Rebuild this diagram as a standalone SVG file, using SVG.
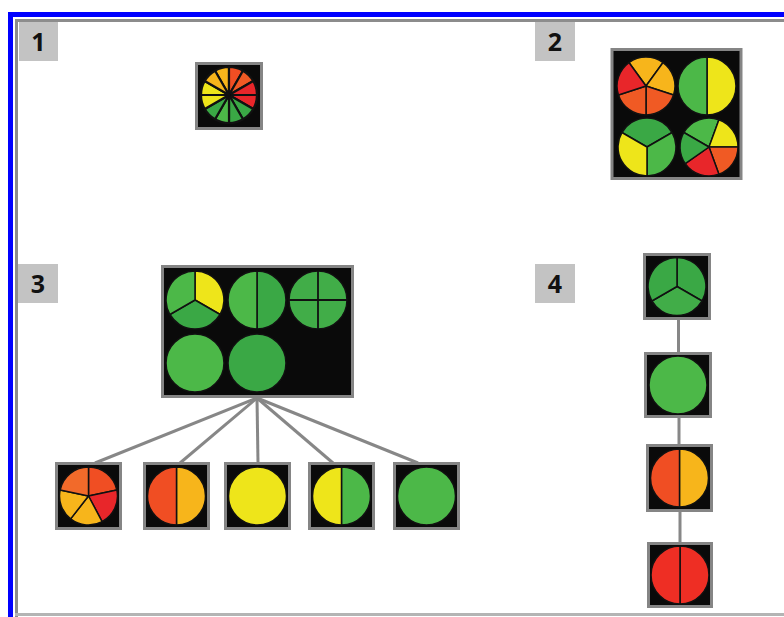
<svg xmlns="http://www.w3.org/2000/svg" width="784" height="617" viewBox="0 0 784 617">
<style>
.frame{fill:#0000ff}
.inner{fill:#8c8c8c}
.lbl{fill:#c3c3c3}
.lt{font-family:"Open Sans","Liberation Sans",sans-serif;font-weight:bold;font-size:25px;fill:#111;text-anchor:middle}
.box{fill:#0a0a0a;stroke:#858585;stroke-width:3}
.s{stroke:#111;stroke-width:1.5;stroke-linejoin:round}
.t{stroke:#111;stroke-width:2.2;stroke-linejoin:round}
.sep{stroke:#111;stroke-width:1.8;fill:none}
.con{stroke:#878787;stroke-width:3;fill:none}
.R{fill:#e8262a}.O{fill:#f05a24}.OR{fill:#f04e23}.A{fill:#f7b51b}.Y{fill:#eee51a}.G{fill:#4cb848}.GD{fill:#3aa845}.GM{fill:#41ad48}
</style>
<rect x="0" y="0" width="784" height="617" fill="#ffffff"/>
<!-- frame -->
<rect class="frame" x="8" y="12" width="5" height="605"/>
<rect class="frame" x="8" y="12" width="776" height="5"/>
<rect class="inner" x="15" y="19" width="3" height="598"/>
<rect class="inner" x="15" y="19" width="769" height="3"/>
<rect x="15" y="613" width="769" height="3" fill="#b4b4b4"/>

<g id="label1"><rect class="lbl" x="19" y="22" width="39" height="39"/><text class="lt" x="38.5" y="51">1</text></g>
<g id="label2"><rect class="lbl" x="535" y="22" width="40" height="39"/><text class="lt" x="555" y="51">2</text></g>
<g id="label3"><rect class="lbl" x="18" y="264" width="40" height="39"/><text class="lt" x="38" y="293">3</text></g>
<g id="label4"><rect class="lbl" x="535" y="264" width="40" height="39"/><text class="lt" x="555" y="293">4</text></g>

<g id="connectors">
<line class="con" x1="257" y1="398" x2="95" y2="463"/>
<line class="con" x1="257" y1="398" x2="180" y2="463"/>
<line class="con" x1="257" y1="398" x2="258" y2="463"/>
<line class="con" x1="257" y1="398" x2="333" y2="463"/>
<line class="con" x1="257" y1="398" x2="418" y2="463"/>
<line class="con" x1="678.5" y1="320" x2="678.5" y2="353"/>
<line class="con" x1="679" y1="418" x2="679" y2="445"/>
<line class="con" x1="680" y1="511" x2="680" y2="543"/>
</g>

<!-- Panel 1 -->
<g id="p1">
<rect class="box" x="196.5" y="63.5" width="65" height="65"/>
<path class="t A" d="M229,95 L215,70.75 A28,28 0 0 1 229,67 Z"/>
<path class="t OR" d="M229,95 L229,67 A28,28 0 0 1 243,70.75 Z"/>
<path class="t O" d="M229,95 L243,70.75 A28,28 0 0 1 253.25,81 Z"/>
<path class="t R" d="M229,95 L253.25,81 A28,28 0 0 1 257,95 Z"/>
<path class="t R" d="M229,95 L257,95 A28,28 0 0 1 253.25,109 Z"/>
<path class="t GD" d="M229,95 L253.25,109 A28,28 0 0 1 243,119.25 Z"/>
<path class="t GD" d="M229,95 L243,119.25 A28,28 0 0 1 229,123 Z"/>
<path class="t G" d="M229,95 L229,123 A28,28 0 0 1 215,119.25 Z"/>
<path class="t GD" d="M229,95 L215,119.25 A28,28 0 0 1 204.75,109 Z"/>
<path class="t Y" d="M229,95 L204.75,109 A28,28 0 0 1 201,95 Z"/>
<path class="t Y" d="M229,95 L201,95 A28,28 0 0 1 204.75,81 Z"/>
<path class="t A" d="M229,95 L204.75,81 A28,28 0 0 1 215,70.75 Z"/>
</g>

<!-- Panel 2 -->
<g id="p2">
<rect class="box" x="612" y="49.5" width="129" height="129"/>
<path class="s A" d="M646,86 L628.95,62.54 A29,29 0 0 1 663.05,62.54 Z"/>
<path class="s A" d="M646,86 L663.05,62.54 A29,29 0 0 1 673.58,94.96 Z"/>
<path class="s O" d="M646,86 L673.58,94.96 A29,29 0 0 1 646,115 Z"/>
<path class="s O" d="M646,86 L646,115 A29,29 0 0 1 618.42,94.96 Z"/>
<path class="s R" d="M646,86 L618.42,94.96 A29,29 0 0 1 628.95,62.54 Z"/>

<path class="s Y" d="M707,57 A29,29 0 0 1 707,115 Z"/>
<path class="s G" d="M707,115 A29,29 0 0 1 707,57 Z"/>

<path class="s GD" d="M647,147 L621.89,132.5 A29,29 0 0 1 672.11,132.5 Z"/>
<path class="s G" d="M647,147 L672.11,132.5 A29,29 0 0 1 647,176 Z"/>
<path class="s Y" d="M647,147 L647,176 A29,29 0 0 1 621.89,132.5 Z"/>

<path class="s G" d="M709,147 L683.89,132.5 A29,29 0 0 1 718.92,119.74 Z"/>
<path class="s Y" d="M709,147 L718.92,119.74 A29,29 0 0 1 738,147 Z"/>
<path class="s O" d="M709,147 L738,147 A29,29 0 0 1 718.92,174.26 Z"/>
<path class="s R" d="M709,147 L718.92,174.26 A29,29 0 0 1 685.25,163.63 Z"/>
<path class="s GD" d="M709,147 L685.25,163.63 A29,29 0 0 1 683.89,132.5 Z"/>
</g>

<!-- Panel 3 parent -->
<g id="p3-parent">
<rect class="box" x="162.5" y="266.5" width="190" height="130"/>
<path class="s Y" d="M195,300 L195,271 A29,29 0 0 1 220.11,314.5 Z"/>
<path class="s GD" d="M195,300 L220.11,314.5 A29,29 0 0 1 169.89,314.5 Z"/>
<path class="s G" d="M195,300 L169.89,314.5 A29,29 0 0 1 195,271 Z"/>
<path class="s GD" d="M257,271 A29,29 0 0 1 257,329 Z"/>
<path class="s G" d="M257,329 A29,29 0 0 1 257,271 Z"/>
<circle class="s GM" cx="318" cy="300" r="29"/>
<path class="sep" d="M318,271 V329 M289,300 H347"/>
<circle class="s G" cx="195" cy="363" r="29"/>
<circle class="s GD" cx="257" cy="363" r="29"/>
</g>

<!-- Panel 3 children -->
<g id="c1">
<rect class="box" x="56.5" y="463.5" width="64" height="65"/>
<path class="s OR" d="M88.5,496 L88.5,467 A29,29 0 0 1 116.87,489.97 Z"/>
<path class="s R" d="M88.5,496 L116.87,489.97 A29,29 0 0 1 102.11,521.6 Z"/>
<path class="s A" d="M88.5,496 L102.11,521.6 A29,29 0 0 1 70.64,518.85 Z"/>
<path class="s A" d="M88.5,496 L70.64,518.85 A29,29 0 0 1 60.13,489.97 Z"/>
<path class="s" fill="#f26a2a" d="M88.5,496 L60.13,489.97 A29,29 0 0 1 88.5,467 Z"/>
</g>
<g id="c2">
<rect class="box" x="144.5" y="463.5" width="64" height="65"/>
<path class="s A" d="M176.5,467 A29,29 0 0 1 176.5,525 Z"/>
<path class="s OR" d="M176.5,525 A29,29 0 0 1 176.5,467 Z"/>
</g>
<g id="c3">
<rect class="box" x="225.5" y="463.5" width="64" height="65"/>
<circle class="s Y" cx="257.5" cy="496" r="29"/>
</g>
<g id="c4">
<rect class="box" x="309.5" y="463.5" width="64" height="65"/>
<path class="s G" d="M341.5,467 A29,29 0 0 1 341.5,525 Z"/>
<path class="s Y" d="M341.5,525 A29,29 0 0 1 341.5,467 Z"/>
</g>
<g id="c5">
<rect class="box" x="394.5" y="463.5" width="64" height="65"/>
<circle class="s G" cx="426.5" cy="496" r="29"/>
</g>

<!-- Panel 4 -->
<g id="p4a">
<rect class="box" x="644.5" y="254.5" width="65" height="64"/>
<path class="s GD" d="M677,286.5 L677,257.5 A29,29 0 0 1 702.11,301 Z"/>
<path class="s GM" d="M677,286.5 L702.11,301 A29,29 0 0 1 651.89,301 Z"/>
<path class="s GD" d="M677,286.5 L651.89,301 A29,29 0 0 1 677,257.5 Z"/>
</g>
<g id="p4b">
<rect class="box" x="645.5" y="353.5" width="65" height="63"/>
<circle class="s G" cx="678" cy="385" r="29"/>
</g>
<g id="p4c">
<rect class="box" x="647.5" y="445.5" width="64" height="65"/>
<path class="s A" d="M679.5,449 A29,29 0 0 1 679.5,507 Z"/>
<path class="s OR" d="M679.5,507 A29,29 0 0 1 679.5,449 Z"/>
</g>
<g id="p4d">
<rect class="box" x="648.5" y="543.5" width="63" height="63"/>
<path class="s" fill="#ee2e24" d="M680,546 A29,29 0 0 1 680,604 Z"/>
<path class="s" fill="#ee2e24" d="M680,604 A29,29 0 0 1 680,546 Z"/>
</g>
</svg>
